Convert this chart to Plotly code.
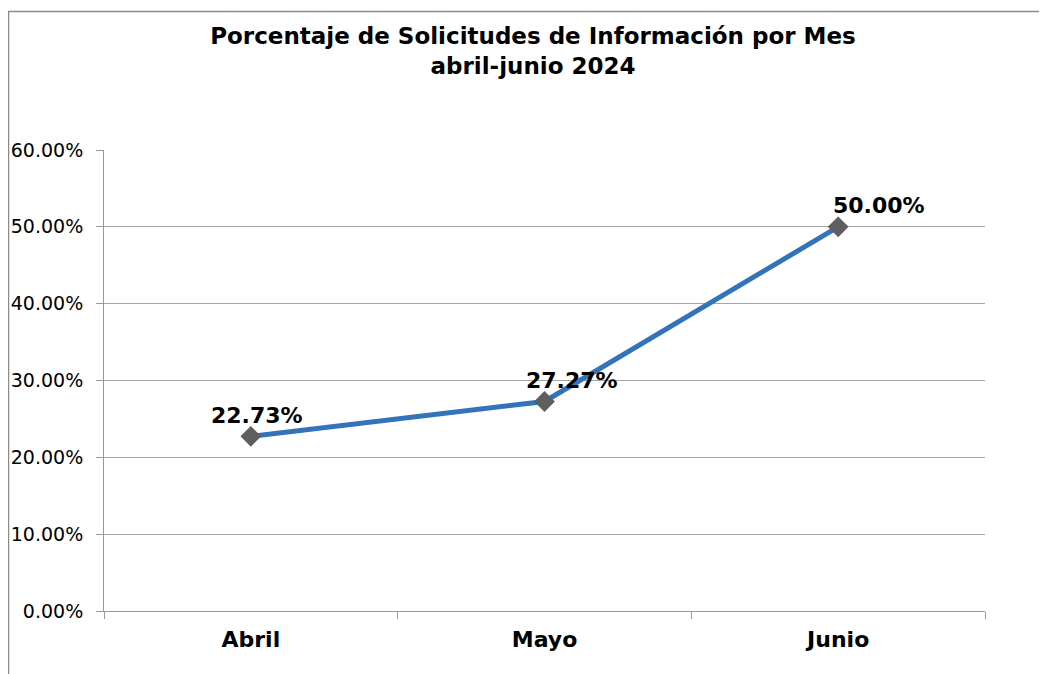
import plotly.graph_objects as go

months = ["Abril", "Mayo", "Junio"]
values = [0.2273, 0.2727, 0.50]
labels = ["22.73%", "27.27%", "50.00%"]
label_xshift = [6, 27, 41]

W, H = 1047, 674
OFF = 8  # page body margin
L, T = 104 - OFF, 150 - OFF
pw, ph = 881, 461
R, B = W - L - pw, H - T - ph

fig = go.Figure()
fig.add_trace(go.Scatter(
    x=months, y=values, mode="lines+markers",
    line=dict(color="#3273B9", width=5),
    marker=dict(symbol="diamond", size=16, color="#5E5E5E",
                line=dict(color="#5E5E5E", width=0)),
    hoverinfo="skip", showlegend=False,
))

for m, v, lab, dx in zip(months, values, labels, label_xshift):
    fig.add_annotation(x=m, y=v, text="<b>" + lab + "</b>", showarrow=False,
                       xshift=dx, yshift=21,
                       font=dict(family="DejaVu Sans", size=22, color="#000000"))

fig.add_shape(type="rect", xref="paper", yref="paper",
              x0=(0.5 - L) / pw, x1=(W + 10 - L) / pw,
              y0=-(H + 10 - (T + ph)) / ph, y1=(T + ph - 3.5) / ph,
              line=dict(color="#8C8C8C", width=1.5), fillcolor="rgba(0,0,0,0)",
              layer="below")

fig.update_layout(
    width=W, height=H,
    margin=dict(l=L, r=R, t=T, b=B, autoexpand=False),
    paper_bgcolor="white", plot_bgcolor="white",
    title=dict(text="<b>Porcentaje de Solicitudes de Información por Mes<br>abril-junio 2024</b>",
               x=(533 - OFF) / W, xanchor="center", y=1 - (44 - OFF) / H, yanchor="middle",
               font=dict(family="DejaVu Sans", size=23, color="#000000")),
    font=dict(family="DejaVu Sans", color="#000000"),
    xaxis=dict(range=[-0.5, 2.5], tickson="boundaries", ticks="outside",
               ticklen=7, tickcolor="#999999", showgrid=False,
               showline=True, linecolor="#999999", linewidth=1,
               tickfont=dict(family="DejaVu Sans", size=22, color="#000000"),
               tickprefix="<b>", ticksuffix="</b>", zeroline=False,
               ticklabelstandoff=9, automargin=False),
    yaxis=dict(range=[0, 0.6], dtick=0.1, tickformat=".2%", ticks="outside",
               ticklen=7, tickcolor="#999999", showgrid=True,
               gridcolor="#A6A6A6", gridwidth=1,
               showline=True, linecolor="#999999", linewidth=1,
               tickfont=dict(family="DejaVu Sans", size=19, color="#000000"),
               zeroline=False, ticklabelstandoff=9, automargin=False),
)

fig.write_html("out.html")
